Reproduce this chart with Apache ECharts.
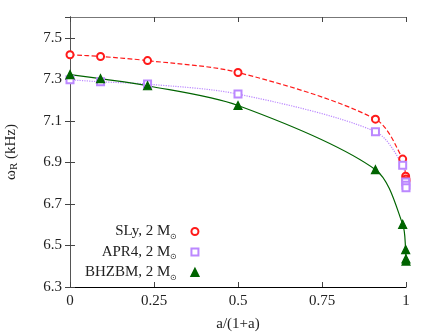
<!DOCTYPE html>
<html><head><meta charset="utf-8">
<script src="https://cdn.jsdelivr.net/npm/echarts@6/dist/echarts.min.js"></script>
<style>html,body{margin:0;padding:0;background:#fff}#c{width:432px;height:333px}</style>
</head><body><div id="c"></div>
<script>
var seriesNames = ['SLy, 2 M', 'APR4, 2 M', 'BHZBM, 2 M'];
var slyX = [0, 0.0909, 0.2308, 0.5, 0.9091, 0.9901, 0.999, 0.9999, 1];
var slyY = [7.418, 7.41, 7.39, 7.333, 7.108, 6.916, 6.833, 6.82, 6.81];
var apr4X = [0, 0.0909, 0.2308, 0.5, 0.9091, 0.9901, 0.999, 0.9999, 1];
var apr4Y = [7.298, 7.288, 7.277, 7.229, 7.048, 6.886, 6.805, 6.79, 6.778];
var bhX = [0, 0.0909, 0.2308, 0.5, 0.9091, 0.9901, 0.999, 0.9999, 1];
var bhY = [7.323, 7.303, 7.269, 7.174, 6.865, 6.602, 6.48, 6.435, 6.425];
var xTicks = [0, 0.25, 0.5, 0.75, 1];
var yTicks = [6.3, 6.5, 6.7, 6.9, 7.1, 7.3, 7.5];

function pairs(xs, ys) { return xs.map(function (x, i) { return [x, ys[i]]; }); }
var font = 'Liberation Serif';
var chart = echarts.init(document.getElementById('c'));
function xAx(pos, lab, col) {
  return { type: 'value', position: pos, min: 0, max: 1, interval: 0.25,
    axisLine: { show: true, lineStyle: { color: col, width: 1 } },
    axisTick: { show: true, inside: true, length: 5, lineStyle: { color: '#444' } },
    splitLine: { show: false },
    axisLabel: { show: lab, fontFamily: font, fontSize: 15, color: '#222', margin: 7,
      formatter: function (v) { return xTicks.indexOf(+v.toFixed(2)) >= 0 ? String(+v.toFixed(2)) : ''; } },
    name: lab ? 'a/(1+a)' : '', nameLocation: 'middle', nameGap: 30,
    nameTextStyle: { fontFamily: font, fontSize: 15, color: '#222' } };
}
function yAx(pos, lab, col) {
  return { type: 'value', position: pos, min: 6.3, max: 7.6, interval: 0.2,
    axisLine: { show: true, lineStyle: { color: col, width: 1 } },
    axisTick: { show: true, inside: true, length: 5, lineStyle: { color: '#444' } },
    splitLine: { show: false },
    axisLabel: { show: lab, fontFamily: font, fontSize: 15, color: '#222', margin: 8, showMaxLabel: false,
      formatter: function (v) { var r = +v.toFixed(1); return yTicks.indexOf(r) >= 0 ? r.toFixed(1) : ''; } },
    name: lab ? '{w|ω}{s|R}{w| (kHz)}' : '', nameLocation: 'middle', nameGap: 50, nameRotate: 90,
    nameTextStyle: { fontFamily: font, fontSize: 15, color: '#222',
      rich: { w: { fontFamily: font, fontSize: 15, color: '#222' },
              s: { fontFamily: font, fontSize: 11, color: '#222', verticalAlign: 'bottom', padding: [7, 0, 0, 0] } } } };
}
var lineDefs = [
  { name: seriesNames[0], data: pairs(slyX, slyY), color: '#ff1a1a', type: 'dashed', symbol: 'emptyCircle', size: 7 },
  { name: seriesNames[1], data: pairs(apr4X, apr4Y), color: '#bb88ff', type: 'dotted', symbol: 'emptyRect', size: 7 },
  { name: seriesNames[2], data: pairs(bhX, bhY), color: '#006400', type: 'solid', symbol: 'triangle', size: 8 }
];
var series = lineDefs.map(function (d) {
  return { name: d.name, type: 'line', data: d.data, smooth: 0.3,
    symbol: d.symbol, symbolSize: d.size, z: 3,
    lineStyle: { color: d.color, width: 1.2, type: d.type },
    itemStyle: { color: d.color, borderColor: d.color, borderWidth: 1.2 } };
});
chart.setOption({
  animation: false,
  backgroundColor: '#fff',
  grid: { left: 70, right: 26, top: 17, bottom: 46, containLabel: false, outerBoundsMode: 'none' },
  xAxis: [xAx('bottom', true, '#000'), xAx('top', false, '#777')],
  yAxis: [yAx('left', true, '#000'), yAx('right', false, '#555')],
  legend: { orient: 'vertical', left: 80, top: 219, align: 'right', itemGap: 4,
    itemWidth: 7, itemHeight: 7,
    data: lineDefs.map(function (d) { return { name: d.name, icon: d.symbol }; }),
    formatter: function (n) { return '{t|' + n + '}{s|⊙}'; },
    textStyle: { fontFamily: font, fontSize: 15, color: '#222',
      rich: { t: { fontFamily: font, fontSize: 15, color: '#222', width: 80, align: 'right', height: 18 },
              s: { fontFamily: font, fontSize: 8, color: '#222', verticalAlign: 'bottom', padding: [9, 9, 0, 0] } } } },
  series: series
});
</script></body></html>
